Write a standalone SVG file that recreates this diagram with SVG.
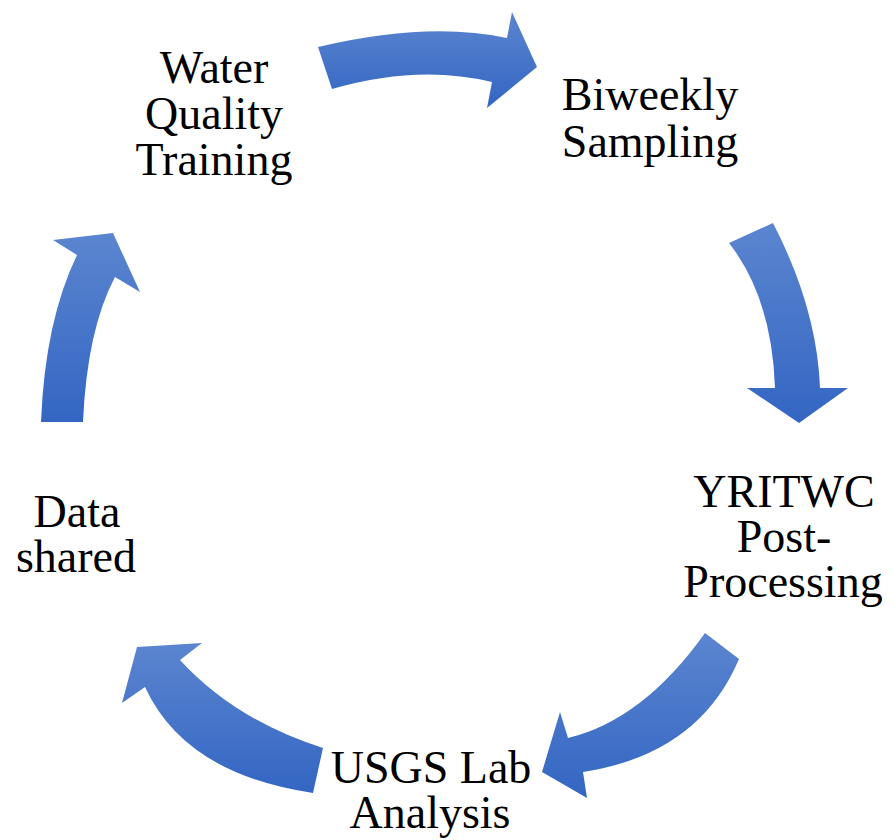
<svg xmlns="http://www.w3.org/2000/svg" width="893" height="840" viewBox="0 0 893 840">
<defs>
<linearGradient id="g" x1="0" y1="0" x2="0" y2="1">
<stop offset="0" stop-color="#5b85cf"/>
<stop offset="1" stop-color="#3366c3"/>
</linearGradient>
<style>
.arrow{fill:url(#g);stroke:none}
.lbl{font-family:"Liberation Serif","Times New Roman",serif;font-size:46px;fill:#000;text-anchor:middle}
</style>
</defs>
<rect width="893" height="840" fill="#fff"/>
<g id="connectors">
<path class="arrow" d="M318,47 Q428,21 507,38 L512,12 L537,67 L487,108 L492,82 Q418,64 332,89 Z"/>
<path class="arrow" d="M729,243 L773,223 Q817,308 820,388 L848,388 L799,423 L747,388 L775,388 Q772,298 729,243 Z"/>
<path class="arrow" d="M705,633 L739,659 Q699,754 583,772 L587,798 L542,772 L560,712 L568,738 Q643,720 705,633 Z"/>
<path class="arrow" d="M313,793 L323,748 Q235,720 180,660 L202,643 L137,647 L122,703 L145,687 Q185,774 313,793 Z"/>
<path class="arrow" d="M41,422 L83,422 Q87,330 115,277 L140,292 L113,233 L53,240 L77,255 Q45,321 41,422 Z"/>
</g>
<g id="node-training">
<text class="lbl" y="83"><tspan x="214">Water</tspan><tspan x="214" dy="46">Quality</tspan><tspan x="214" dy="46">Training</tspan></text>
</g>
<g id="node-sampling">
<text class="lbl" y="110"><tspan x="650">Biweekly</tspan><tspan x="650" dy="47">Sampling</tspan></text>
</g>
<g id="node-postprocessing">
<text class="lbl" y="507"><tspan x="784">YRITWC</tspan><tspan x="784" dy="45">Post-</tspan><tspan x="783" dy="45">Processing</tspan></text>
</g>
<g id="node-lab">
<text class="lbl" y="783"><tspan x="431">USGS Lab</tspan><tspan x="430" dy="45">Analysis</tspan></text>
</g>
<g id="node-data">
<text class="lbl" y="527"><tspan x="77">Data</tspan><tspan x="76" dy="45">shared</tspan></text>
</g>
</svg>
